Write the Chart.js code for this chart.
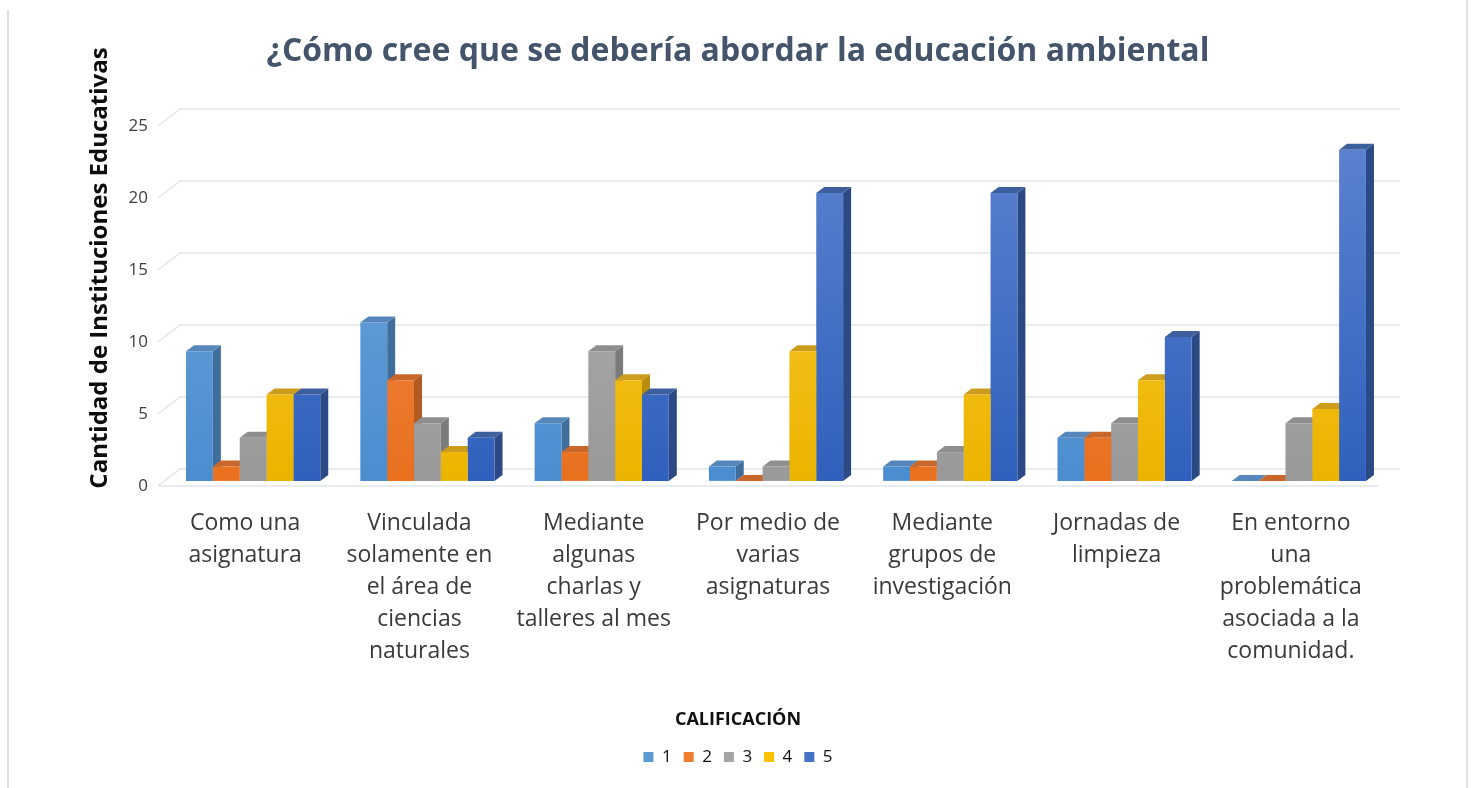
<!DOCTYPE html>
<html>
<head>
<meta charset="utf-8">
<script src="https://cdn.jsdelivr.net/npm/chart.js@4.4.0/dist/chart.umd.min.js"></script>
<style>
  html, body { margin: 0; padding: 0; background: #fff; }
  #wrap { width: 1476px; height: 788px; position: relative; }
</style>
</head>
<body>
<div id="wrap"><canvas id="grafico"></canvas></div>
<script>
// datos
const categorias = [
  ['Como una', 'asignatura'],
  ['Vinculada', 'solamente en', 'el área de', 'ciencias', 'naturales'],
  ['Mediante', 'algunas', 'charlas y', 'talleres al mes'],
  ['Por medio de', 'varias', 'asignaturas'],
  ['Mediante', 'grupos de', 'investigación'],
  ['Jornadas de', 'limpieza'],
  ['En entorno', 'una', 'problemática', 'asociada a la', 'comunidad.']
];
const calificaciones = ['1', '2', '3', '4', '5'];
const cal1 = [9, 11, 4, 1, 1, 3, 0];
const cal2 = [1, 7, 2, 0, 1, 3, 0];
const cal3 = [3, 4, 9, 1, 2, 4, 4];
const cal4 = [6, 2, 7, 9, 6, 7, 5];
const cal5 = [6, 3, 6, 20, 20, 10, 23];
const ticksY = [0, 5, 10, 15, 20, 25];

// colores: frente (arriba, abajo), tapa, lado, leyenda
const frenteArriba = ['#72a9de', '#f28f52', '#b3b3b3', '#ffca3a', '#5d84d0'];
const frenteAbajo  = ['#4a8dcf', '#e8701f', '#999999', '#ebb400', '#3060bd'];
const tapa  = ['#5686ba', '#c9672b', '#8e8e8e', '#cc9c1c', '#3e5f9e'];
const lado  = ['#3f6e9d', '#b25a20', '#7b7b7b', '#b78f0c', '#2b4985'];
const solido = ['#5b9bd5', '#ed7d31', '#a5a5a5', '#ffc000', '#4472c4'];

const valores = [cal1, cal2, cal3, cal4, cal5];

const PROF_X = 8, PROF_Y = 6;     // profundidad de las barras
const PISO_X = 22, PISO_Y = 17;   // profundidad del piso / rejilla
const DESPLAZA = 8;               // barras corridas hacia atras

function gradiente(i) {
  return function (c) {
    const area = c.chart.chartArea;
    if (!area) return solido[i];
    const g = c.chart.ctx.createLinearGradient(0, area.top, 0, area.bottom);
    g.addColorStop(0, frenteArriba[i]);
    g.addColorStop(1, frenteAbajo[i]);
    return g;
  };
}

const efecto3d = {
  id: 'efecto3d',
  beforeDraw(chart) {
    const ctx = chart.ctx;
    ctx.save();
    ctx.strokeStyle = '#dde1e6';
    ctx.lineWidth = 2;
    ctx.beginPath();
    ctx.moveTo(8, 10); ctx.lineTo(8, 788);
    ctx.moveTo(1467, 0); ctx.lineTo(1467, 788);
    ctx.stroke();
    ctx.restore();
  },
  beforeDatasetsDraw(chart) {
    const ctx = chart.ctx, area = chart.chartArea, ys = chart.scales.y;
    ctx.save();
    ctx.strokeStyle = '#e2e5ea';
    ctx.lineWidth = 1.5;
    ticksY.forEach(v => {
      const fy = ys.getPixelForValue(v) + 5;
      ctx.beginPath();
      ctx.moveTo(area.left, fy);
      ctx.lineTo(area.left + PISO_X, fy - PISO_Y);
      ctx.lineTo(area.right + PISO_X, fy - PISO_Y);
      if (v === 0) {
        ctx.moveTo(area.left, fy);
        ctx.lineTo(area.right, fy);
      }
      ctx.stroke();
    });
    ctx.restore();

    ctx.save();
    ctx.translate(DESPLAZA, 0);
    for (let i = 0; i < categorias.length; i++) {
      for (let d = 0; d < valores.length; d++) {
        const bar = chart.getDatasetMeta(d).data[i];
        const p = bar.getProps(['x', 'y', 'base', 'width'], true);
        const l = p.x - p.width / 2, r = p.x + p.width / 2;
        ctx.fillStyle = lado[d];
        ctx.beginPath();
        ctx.moveTo(r, p.y);
        ctx.lineTo(r + PROF_X, p.y - PROF_Y);
        ctx.lineTo(r + PROF_X, p.base - PROF_Y);
        ctx.lineTo(r, p.base);
        ctx.closePath();
        ctx.fill();
        ctx.fillStyle = tapa[d];
        ctx.beginPath();
        ctx.moveTo(l, p.y);
        ctx.lineTo(r, p.y);
        ctx.lineTo(r + PROF_X, p.y - PROF_Y);
        ctx.lineTo(l + PROF_X, p.y - PROF_Y);
        ctx.closePath();
        ctx.fill();
      }
    }
  },
  afterDatasetsDraw(chart) {
    chart.ctx.restore();
  },
  afterDraw(chart) {
    const ctx = chart.ctx;
    ctx.save();
    ctx.translate(100, 268);
    ctx.rotate(-Math.PI / 2);
    ctx.font = 'bold 24px "Open Sans"';
    ctx.fillStyle = '#0d0d0d';
    ctx.textAlign = 'center';
    ctx.textBaseline = 'middle';
    ctx.fillText('Cantidad de Instituciones Educativas', 0, 0);
    ctx.restore();
  }
};

Chart.defaults.font.family = '"Open Sans", sans-serif';

new Chart(document.getElementById('grafico'), {
  type: 'bar',
  data: {
    labels: categorias,
    datasets: calificaciones.map((c, i) => ({
      label: c,
      data: valores[i],
      backgroundColor: gradiente(i),
      borderWidth: 0,
      categoryPercentage: 0.77,
      barPercentage: 1.0,
      clip: false
    }))
  },
  options: {
    responsive: true,
    maintainAspectRatio: false,
    animation: false,
    layout: { padding: { left: 98, right: 98, top: 0, bottom: 12.5 } },
    plugins: {
      title: {
        display: true,
        text: '¿Cómo cree que se debería abordar la educación ambiental',
        color: '#44546a',
        font: { size: 32, weight: 'bold' },
        padding: { top: 33, bottom: 49.6 }
      },
      legend: {
        position: 'bottom',
        title: {
          display: true,
          text: 'CALIFICACIÓN',
          color: '#111111',
          font: { size: 18, weight: 'bold' },
          padding: { top: 16, bottom: 4 }
        },
        labels: {
          boxWidth: 10,
          boxHeight: 10,
          padding: 12,
          color: '#404040',
          font: { size: 17 },
          generateLabels() {
            return calificaciones.map((c, i) => ({
              text: c,
              fillStyle: solido[i],
              strokeStyle: solido[i],
              lineWidth: 0,
              datasetIndex: i
            }));
          }
        }
      },
      tooltip: { enabled: false }
    },
    scales: {
      x: {
        grid: { display: false, drawTicks: false },
        border: { display: false },
        ticks: {
          color: '#3a3a3a',
          font: { size: 23, lineHeight: 1.3913 },
          padding: 27,
          maxRotation: 0,
          autoSkip: false
        }
      },
      y: {
        min: 0,
        max: 25,
        grid: { display: false, drawTicks: false },
        border: { display: false },
        afterFit(scale) { scale.width = 60; },
        ticks: {
          stepSize: 5,
          color: '#404040',
          font: { size: 17 },
          padding: 10,
          labelOffset: 5
        }
      }
    }
  },
  plugins: [efecto3d]
});
</script>
</body>
</html>
